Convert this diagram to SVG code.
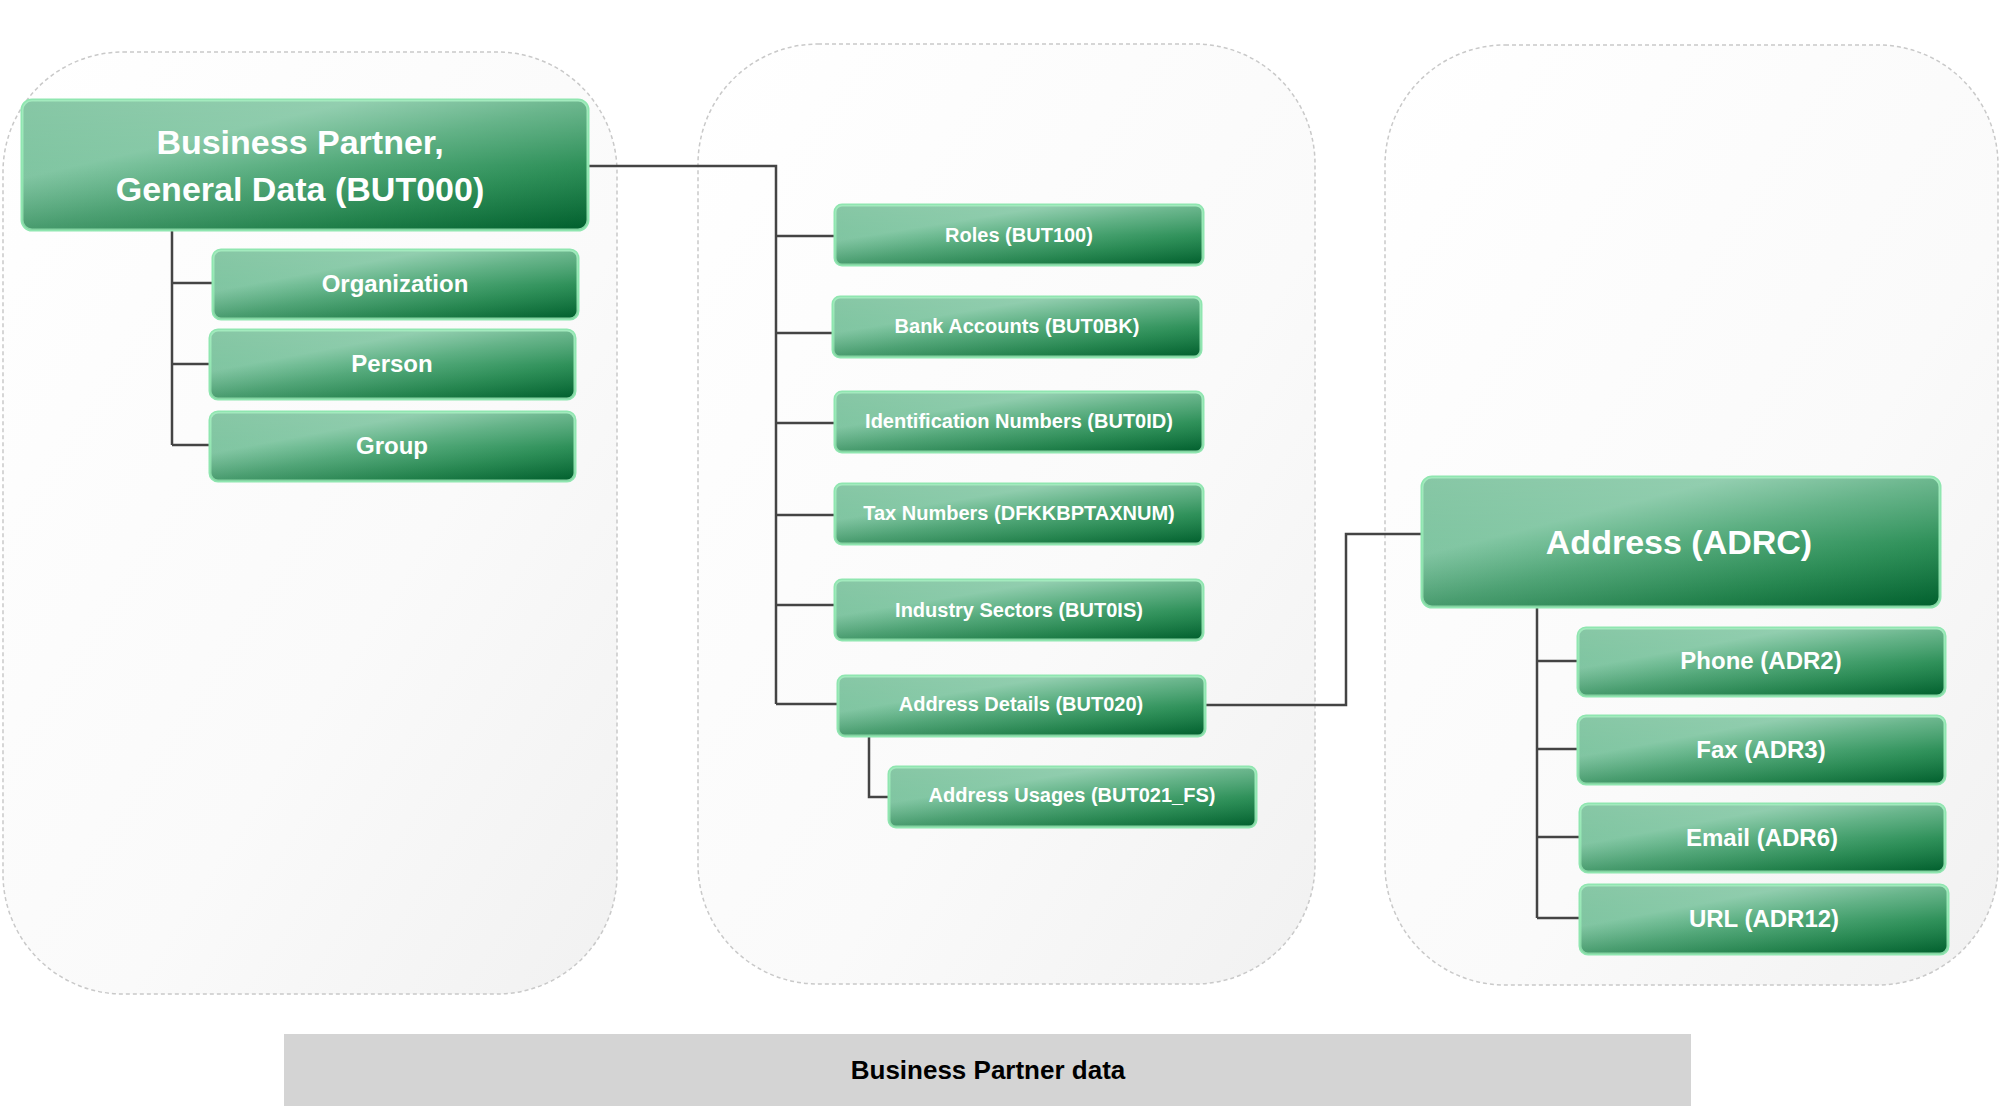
<svg xmlns="http://www.w3.org/2000/svg" width="2000" height="1109" viewBox="0 0 2000 1109">
<defs>
<linearGradient id="pg" x1="0" y1="0" x2="1" y2="1">
<stop offset="0" stop-color="#ffffff"/>
<stop offset="0.6" stop-color="#fafafa"/>
<stop offset="1" stop-color="#f1f1f1"/>
</linearGradient>
<linearGradient id="gg" x1="0" y1="0" x2="1" y2="1">
<stop offset="0" stop-color="#6dbb92"/>
<stop offset="0.3" stop-color="#7cc49f"/>
<stop offset="0.5" stop-color="#4ea877"/>
<stop offset="0.75" stop-color="#238a50"/>
<stop offset="1" stop-color="#006630"/>
</linearGradient>
<linearGradient id="gl" x1="0" y1="0" x2="0" y2="1">
<stop offset="0" stop-color="#ffffff" stop-opacity="0.18"/>
<stop offset="0.5" stop-color="#ffffff" stop-opacity="0.05"/>
<stop offset="1" stop-color="#000000" stop-opacity="0.08"/>
</linearGradient>
</defs>
<style>
.panel{fill:url(#pg);stroke:#c9c9c9;stroke-width:1.5;stroke-dasharray:4 3}
.box{fill:url(#gg);stroke:#8fe6b0;stroke-width:3}
.gloss{fill:url(#gl);stroke:none}
.t{fill:#ffffff;font-family:"Liberation Sans",Arial,sans-serif;font-weight:bold;text-anchor:middle;dominant-baseline:central}
.s{font-size:20px}
.m{font-size:24px}
.l{font-size:34px}
.conn{fill:none;stroke:#444444;stroke-width:2.5}
.bar{fill:#d4d4d4}
.bt{fill:#000000;font-family:"Liberation Sans",Arial,sans-serif;font-weight:bold;font-size:26px;text-anchor:middle;dominant-baseline:central}
</style>
<rect width="2000" height="1109" fill="#ffffff"/>
<g id="panels">
<rect class="panel" x="3" y="52" width="614" height="942" rx="120"/>
<rect class="panel" x="698" y="44" width="617" height="940" rx="120"/>
<rect class="panel" x="1385" y="45" width="613" height="940" rx="120"/>
</g>
<g id="connectors">
<path class="conn" d="M172 230 V445 M172 283 H213 M172 364 H210 M172 445 H210"/>
<path class="conn" d="M588 166 H776 V704 M776 236 H835 M776 333 H833 M776 423 H835 M776 515 H835 M776 605 H835 M776 704 H838"/>
<path class="conn" d="M869 736 V797 H889"/>
<path class="conn" d="M1205 705 H1346 V534 H1422"/>
<path class="conn" d="M1537 607 V918 M1537 661 H1578 M1537 749 H1578 M1537 837 H1580 M1537 918 H1580"/>
</g>
<g id="but000">
<rect class="box" x="22" y="100" width="566" height="130" rx="10"/>
<rect class="gloss" x="22" y="100" width="566" height="130" rx="10"/>
<text class="t l" x="300" y="142">Business Partner,</text>
<text class="t l" x="300" y="189">General Data (BUT000)</text>
</g>
<g id="organization">
<rect class="box" x="213" y="250" width="365" height="69" rx="8"/>
<rect class="gloss" x="213" y="250" width="365" height="69" rx="8"/>
<text class="t m" x="395" y="283">Organization</text>
</g>
<g id="person">
<rect class="box" x="210" y="330" width="365" height="69" rx="8"/>
<rect class="gloss" x="210" y="330" width="365" height="69" rx="8"/>
<text class="t m" x="392" y="363">Person</text>
</g>
<g id="group">
<rect class="box" x="210" y="412" width="365" height="69" rx="8"/>
<rect class="gloss" x="210" y="412" width="365" height="69" rx="8"/>
<text class="t m" x="392" y="445">Group</text>
</g>
<g id="roles">
<rect class="box" x="835" y="205" width="368" height="60" rx="7"/>
<rect class="gloss" x="835" y="205" width="368" height="60" rx="7"/>
<text class="t s" x="1019" y="235">Roles (BUT100)</text>
</g>
<g id="bank">
<rect class="box" x="833" y="297" width="368" height="60" rx="7"/>
<rect class="gloss" x="833" y="297" width="368" height="60" rx="7"/>
<text class="t s" x="1017" y="326">Bank Accounts (BUT0BK)</text>
</g>
<g id="idnum">
<rect class="box" x="835" y="392" width="368" height="60" rx="7"/>
<rect class="gloss" x="835" y="392" width="368" height="60" rx="7"/>
<text class="t s" x="1019" y="421">Identification Numbers (BUT0ID)</text>
</g>
<g id="tax">
<rect class="box" x="835" y="484" width="368" height="60" rx="7"/>
<rect class="gloss" x="835" y="484" width="368" height="60" rx="7"/>
<text class="t s" x="1019" y="513">Tax Numbers (DFKKBPTAXNUM)</text>
</g>
<g id="industry">
<rect class="box" x="835" y="580" width="368" height="60" rx="7"/>
<rect class="gloss" x="835" y="580" width="368" height="60" rx="7"/>
<text class="t s" x="1019" y="610">Industry Sectors (BUT0IS)</text>
</g>
<g id="addrdetails">
<rect class="box" x="838" y="676" width="367" height="60" rx="7"/>
<rect class="gloss" x="838" y="676" width="367" height="60" rx="7"/>
<text class="t s" x="1021" y="704">Address Details (BUT020)</text>
</g>
<g id="addrusages">
<rect class="box" x="889" y="767" width="367" height="60" rx="7"/>
<rect class="gloss" x="889" y="767" width="367" height="60" rx="7"/>
<text class="t s" x="1072" y="795">Address Usages (BUT021_FS)</text>
</g>
<g id="adrc">
<rect class="box" x="1422" y="477" width="518" height="130" rx="10"/>
<rect class="gloss" x="1422" y="477" width="518" height="130" rx="10"/>
<text class="t l" x="1679" y="542">Address (ADRC)</text>
</g>
<g id="phone">
<rect class="box" x="1578" y="628" width="367" height="68" rx="8"/>
<rect class="gloss" x="1578" y="628" width="367" height="68" rx="8"/>
<text class="t m" x="1761" y="660">Phone (ADR2)</text>
</g>
<g id="fax">
<rect class="box" x="1578" y="716" width="367" height="68" rx="8"/>
<rect class="gloss" x="1578" y="716" width="367" height="68" rx="8"/>
<text class="t m" x="1761" y="749">Fax (ADR3)</text>
</g>
<g id="email">
<rect class="box" x="1580" y="804" width="365" height="68" rx="8"/>
<rect class="gloss" x="1580" y="804" width="365" height="68" rx="8"/>
<text class="t m" x="1762" y="837">Email (ADR6)</text>
</g>
<g id="url">
<rect class="box" x="1580" y="885" width="368" height="69" rx="8"/>
<rect class="gloss" x="1580" y="885" width="368" height="69" rx="8"/>
<text class="t m" x="1764" y="918">URL (ADR12)</text>
</g>
<g id="footer">
<rect class="bar" x="284" y="1034" width="1407" height="72"/>
<text class="bt" x="988" y="1070">Business Partner data</text>
</g>
</svg>
